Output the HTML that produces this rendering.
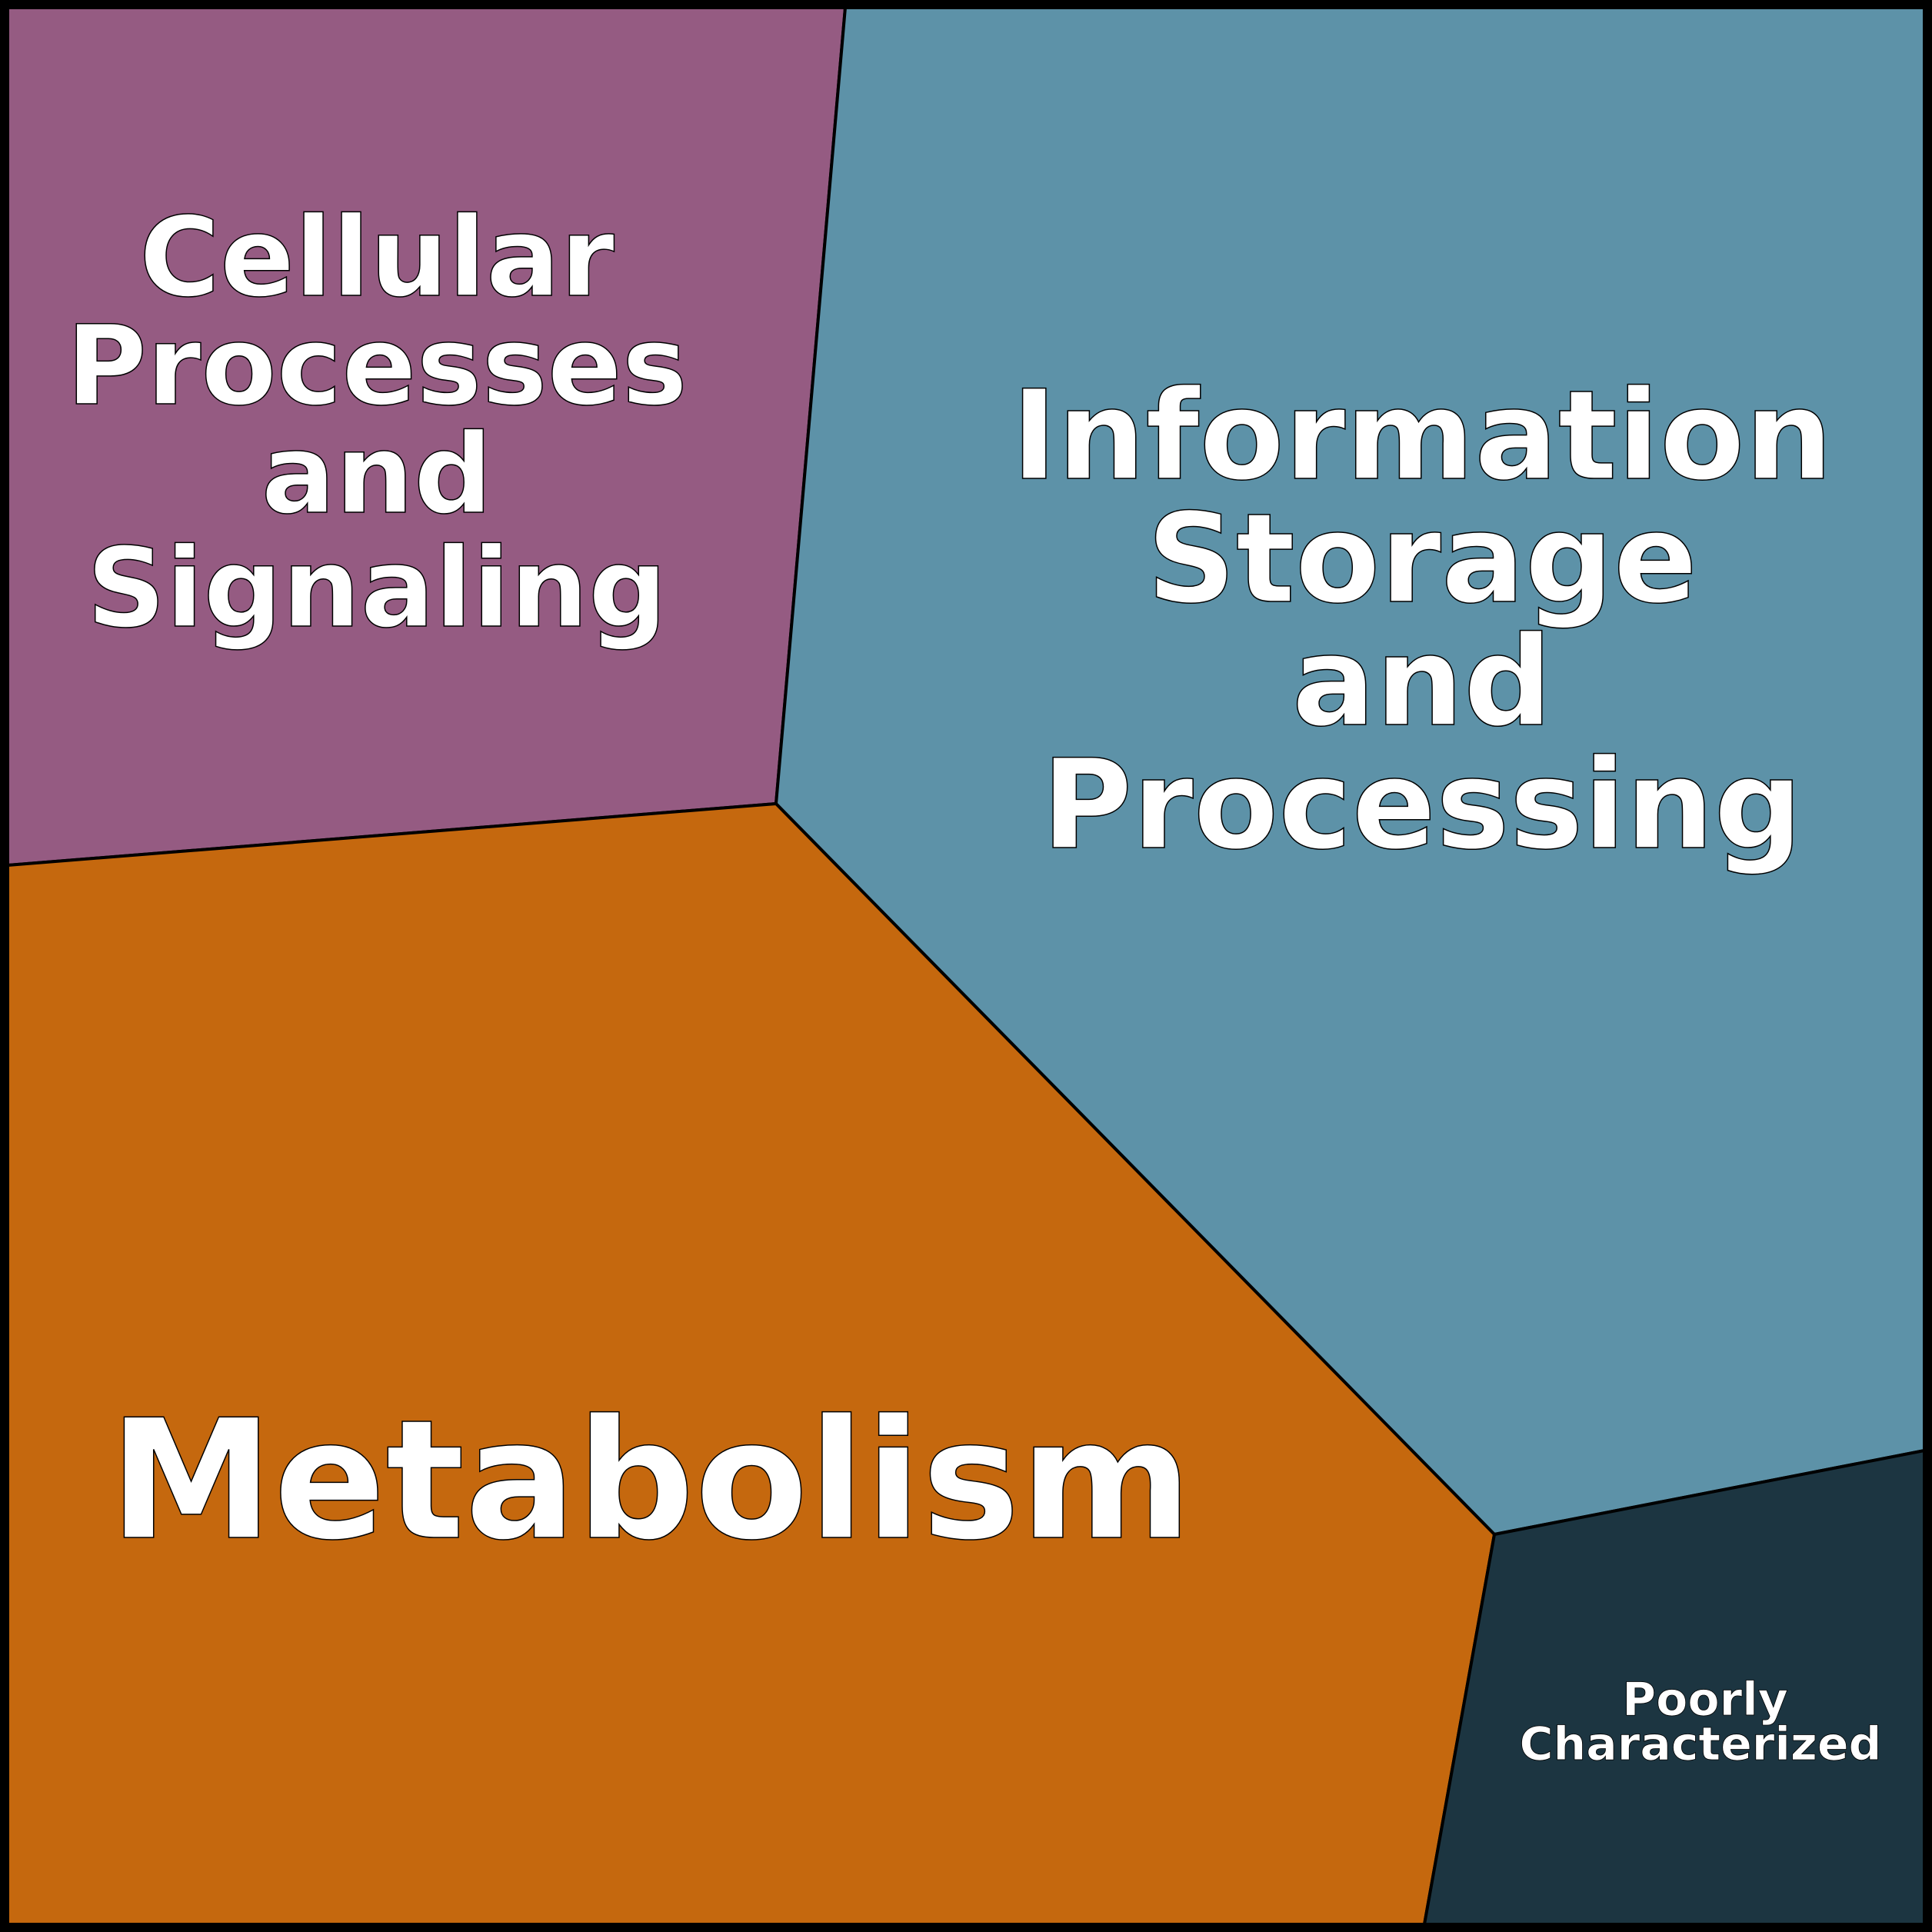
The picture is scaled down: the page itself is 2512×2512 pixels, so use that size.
<!DOCTYPE html>
<html><head><style>html,body{margin:0;padding:0;background:#000}svg{display:block}</style></head>
<body>
<svg xmlns="http://www.w3.org/2000/svg" width="2512" height="2512" viewBox="0 0 2512 2512">
<rect x="0" y="0" width="2512" height="2512" fill="#000"/>
<polygon points="10,10 1099,10 1009,1045 10,1125" fill="#955B82" stroke="#000" stroke-width="4"/>
<polygon points="1099,10 2502,10 2502,1886 1943,1995 1009,1045" fill="#5D92A8" stroke="#000" stroke-width="4"/>
<polygon points="10,1125 1009,1045 1943,1995 1852,2502 10,2502" fill="#C5680E" stroke="#000" stroke-width="4"/>
<polygon points="1943,1995 2502,1886 2502,2502 1852,2502" fill="#1C3541" stroke="#000" stroke-width="4"/>
<g font-family="'DejaVu Sans','Liberation Sans',sans-serif" font-weight="bold" fill="#fff" stroke="#000" stroke-width="1.5" text-anchor="middle">
<g font-size="143">
<text x="490" y="384">Cellular</text>
<text x="490" y="525">Processes</text>
<text x="490" y="666">and</text>
<text x="490" y="814">Signaling</text>
</g>
<g font-size="161">
<text x="1849" y="622">Information</text>
<text x="1849" y="782">Storage</text>
<text x="1849" y="942">and</text>
<text x="1849" y="1102">Processing</text>
</g>
<text x="846" y="1999" font-size="215">Metabolism</text>
<g font-size="60" stroke-width="0.8">
<text x="2217" y="2230">Poorly</text>
<text x="2211" y="2288">Characterized</text>
</g>
</g>
</svg>
</body></html>
